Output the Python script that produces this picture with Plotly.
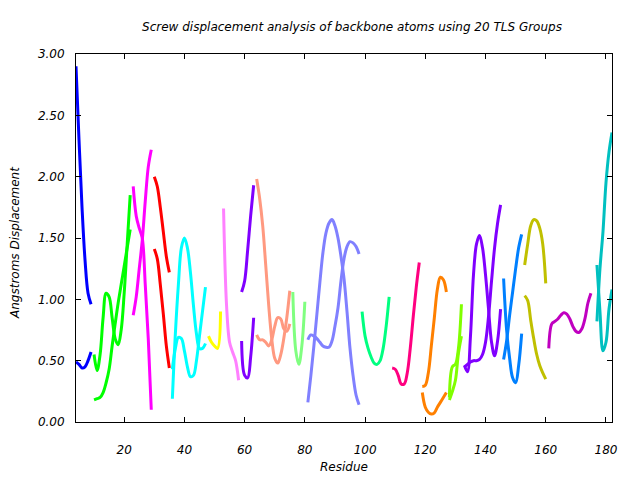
import plotly.graph_objects as go

# ---- data: screw displacement per TLS group (two curves per group where present)
group_start = [4, 10, 23, 30, 36, 48, 53, 59, 64, 76, 81, 99, 109, 119, 128, 133, 146, 153, 161, 177]
group_color = ["#0000ff", "#00ff00", "#ff00ff", "#ff0000", "#00ffff", "#ffff00", "#ff80ff",
               "#8000ff", "#ff9980", "#80ff80", "#8080ff", "#00ff80", "#ff0080", "#ff8000",
               "#80ff00", "#8000ff", "#0080ff", "#c0c000", "#c000c0", "#00c0c0"]

g01_a = [2.90, 2.30, 1.75, 1.32, 1.05, 0.96]
g01_b = [0.49, 0.47, 0.44, 0.45, 0.50, 0.57]
g02_a = [0.55, 0.42, 0.55, 0.85, 1.05, 1.02, 0.85, 0.68, 0.63, 0.75, 1.05, 1.45, 1.85]
g02_b = [0.18, 0.19, 0.20, 0.24, 0.32, 0.43, 0.62, 0.80, 0.97, 1.12, 1.27, 1.42, 1.57]
g03_a = [1.92, 1.68, 1.58, 1.50, 1.12, 0.68, 0.10]
g03_b = [0.87, 1.02, 1.25, 1.48, 1.80, 2.08, 2.22]
g04_a = [2.00, 1.92, 1.75, 1.55, 1.35, 1.22]
g04_b = [1.41, 1.33, 1.12, 0.88, 0.62, 0.44]
g05_a = [0.19, 0.72, 1.12, 1.42, 1.50, 1.42, 1.22, 0.95, 0.72, 0.60, 0.60, 0.64]
g05_b = [0.43, 0.60, 0.69, 0.68, 0.58, 0.45, 0.37, 0.38, 0.50, 0.70, 0.90, 1.10]
g06_a = [0.70, 0.65, 0.62, 0.60, 0.90]
g07_a = [1.74, 0.95, 0.65, 0.57, 0.50, 0.34]
g08_a = [1.06, 1.15, 1.40, 1.68, 1.93]
g08_b = [0.66, 0.38, 0.36, 0.53, 0.85]
g09_a = [1.98, 1.82, 1.60, 1.28, 0.95, 0.68, 0.52, 0.48, 0.55, 0.68, 0.85, 1.07]
g09_b = [0.71, 0.67, 0.67, 0.65, 0.62, 0.67, 0.78, 0.85, 0.84, 0.76, 0.74, 0.80]
g10_a = [1.06, 0.58, 0.47, 0.62, 0.98]
g11_a = [0.16, 0.38, 0.62, 0.88, 1.14, 1.38, 1.54, 1.62, 1.65, 1.60, 1.50, 1.35, 1.17, 0.90,
         0.60, 0.38, 0.22, 0.14]
g11_b = [0.67, 0.71, 0.70, 0.68, 0.65, 0.62, 0.61, 0.61, 0.66, 0.78, 0.93, 1.15, 1.33, 1.43,
         1.47, 1.46, 1.43, 1.37]
g12_a = [0.90, 0.70, 0.60, 0.53, 0.48, 0.47, 0.50, 0.60, 0.78, 1.02]
g13_a = [0.44, 0.43, 0.38, 0.31, 0.31, 0.40, 0.60, 0.86, 1.10, 1.30]
g14_a = [0.24, 0.12, 0.08, 0.065, 0.075, 0.12, 0.16, 0.20, 0.24]
g14_b = [0.29, 0.30, 0.40, 0.62, 0.85, 1.08, 1.18, 1.16, 1.06]
g15_a = [0.20, 0.45, 0.47, 0.60, 0.96]
g15_b = [0.18, 0.25, 0.34, 0.56, 0.70]
g16_a = [0.46, 0.41, 0.70, 1.20, 1.45, 1.52, 1.42, 1.20, 0.92, 0.65, 0.54, 0.66, 0.92]
g16_b = [0.45, 0.47, 0.49, 0.50, 0.50, 0.51, 0.55, 0.65, 0.86, 1.15, 1.42, 1.62, 1.77]
g17_a = [1.17, 0.75, 0.52, 0.36, 0.32, 0.46, 0.72]
g17_b = [0.51, 0.66, 0.87, 1.06, 1.25, 1.42, 1.53]
g18_a = [1.28, 1.45, 1.60, 1.65, 1.64, 1.58, 1.45, 1.13]
g18_b = [1.03, 0.99, 0.83, 0.68, 0.55, 0.46, 0.40, 0.35]
g19_a = [0.60, 0.80, 0.82, 0.84, 0.87, 0.89, 0.88, 0.84, 0.78, 0.74, 0.73, 0.76, 0.84, 0.97, 1.05]
g20_a = [1.28, 0.90, 0.58, 0.65, 0.92, 1.08]
g20_b = [0.82, 1.25, 1.55, 1.95, 2.20, 2.36]

group_curves = [
    [g01_a, g01_b], [g02_a, g02_b], [g03_a, g03_b], [g04_a, g04_b], [g05_a, g05_b],
    [g06_a], [g07_a], [g08_a, g08_b], [g09_a, g09_b], [g10_a],
    [g11_a, g11_b], [g12_a], [g13_a], [g14_a, g14_b], [g15_a, g15_b],
    [g16_a, g16_b], [g17_a, g17_b], [g18_a, g18_b], [g19_a], [g20_a, g20_b],
]

x_ticks = [20, 40, 60, 80, 100, 120, 140, 160, 180]
y_ticks = [0.0, 0.5, 1.0, 1.5, 2.0, 2.5, 3.0]

fig = go.Figure()
for start, color, curves in zip(group_start, group_color, group_curves):
    for vals in curves:
        xs = list(range(start, start + len(vals)))
        fig.add_trace(go.Scatter(x=xs, y=vals, mode="lines",
                                 line=dict(color=color, width=3, shape="spline"),
                                 showlegend=False, hoverinfo="skip"))

font = dict(family="DejaVu Sans", size=12, color="#000000", style="italic")
axis_common = dict(showline=True, linecolor="#000000", linewidth=1, mirror="ticks",
                   ticks="inside", ticklen=5, tickcolor="#000000", showgrid=False,
                   zeroline=False, tickfont=font, automargin=False)

L, R, T, B = 76, 28, 54, 58
plot_w, plot_h = 640 - L - R, 480 - T - B

fig.update_layout(
    width=640, height=480,
    margin=dict(l=L, r=R, t=T, b=B, autoexpand=False),
    paper_bgcolor="#ffffff", plot_bgcolor="#ffffff",
    font=font,
    hovermode=False,
    title=dict(text="Screw displacement analysis of backbone atoms using 20 TLS Groups",
               font=font, x=352 / 640, xanchor="center", y=1 - 27 / 480, yanchor="middle"),
    xaxis=dict(range=[4, 182], tickvals=x_ticks, ticktext=[str(v) for v in x_ticks],
               ticklabelstandoff=17, **axis_common),
    yaxis=dict(range=[0, 3], tickvals=y_ticks, ticktext=["%.2f" % v for v in y_ticks],
               ticklabelstandoff=8, **axis_common),
    annotations=[
        dict(text="Residue", xref="paper", yref="paper", x=0.5, y=-(467 - (480 - B)) / plot_h,
             xanchor="center", yanchor="middle", showarrow=False, font=font),
        dict(text="Angstroms Displacement", xref="paper", yref="paper",
             x=(15 - L) / plot_w, y=(480 - B - 243) / plot_h, textangle=-90,
             xanchor="center", yanchor="middle", showarrow=False, font=font),
    ],
)

fig.write_html("out.html", config={"displayModeBar": False},
               post_script="document.body.style.margin='0';")
